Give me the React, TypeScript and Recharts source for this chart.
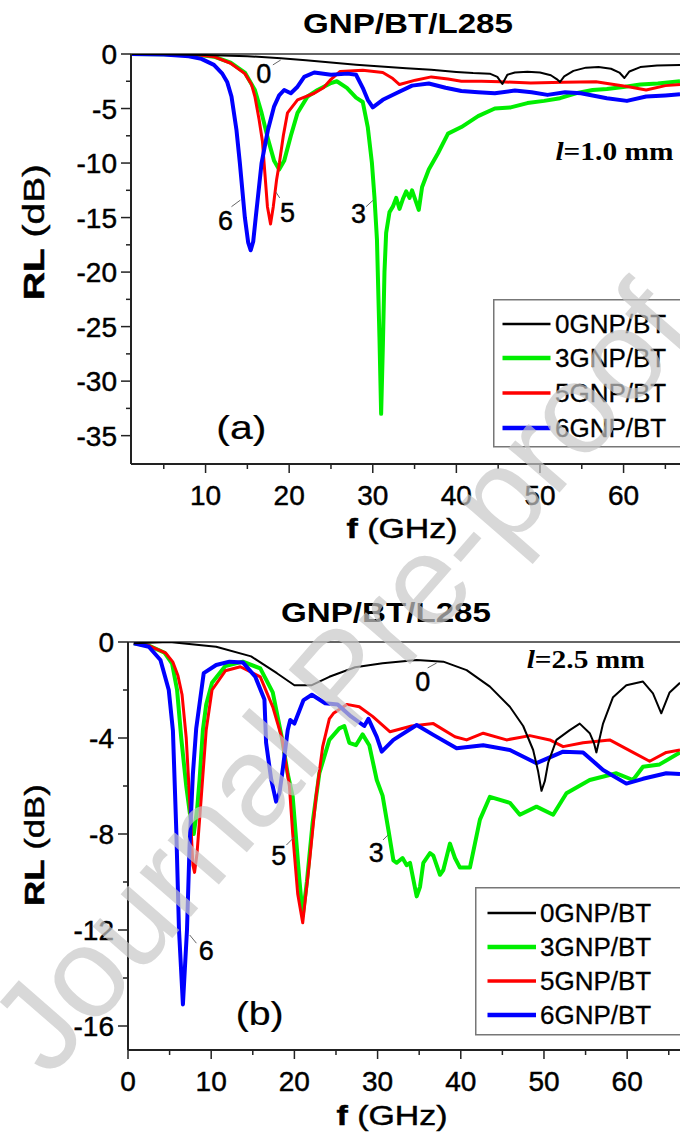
import React from 'react'
import { LineChart, Line, XAxis, YAxis, ReferenceLine, ReferenceDot, Legend } from 'recharts'

const SANS = '"Liberation Sans", Arial, sans-serif'
const SERIF = '"Liberation Serif", "Times New Roman", serif'
const INK = { fill: '#000', stroke: '#000', strokeWidth: 0.45 }

// series styling (legend order)
const names = ['0GNP/BT', '3GNP/BT', '5GNP/BT', '6GNP/BT']
const colors = ['#000000', '#00ee00', '#ff0000', '#0000ff']
const widths = [2, 4, 3, 4]

// (a) l = 1.0 mm  -- [f GHz, RL dB]
const a0 = [[1,0],[5,-0.03],[10,-0.1],[15,-0.2],[19,-0.4],[22,-0.58],[25,-0.78],[28,-0.98],[31,-1.15],[34,-1.3],[37,-1.45],[40,-1.65],[42,-1.75],[44,-1.8],[44.9,-2.1],[45.5,-2.75],[46.1,-1.9],[47,-1.7],[48.5,-1.62],[50,-1.7],[51.3,-1.95],[52,-2.3],[52.4,-2.57],[52.9,-2.05],[54,-1.55],[55.5,-1.25],[57,-1.2],[58.5,-1.35],[59.5,-1.7],[60.1,-2.2],[60.7,-1.6],[62,-1.2],[64,-1.05],[66.75,-1.0]]
const a3 = [[1,0],[5,-0.02],[9,-0.08],[11,-0.25],[13,-0.8],[14.7,-1.7],[15.9,-3.3],[16.7,-5.4],[17.5,-7.9],[18.2,-9.8],[18.8,-10.6],[19.4,-9.8],[20.2,-7.5],[21,-5.4],[22.2,-3.9],[23.4,-3.3],[24.9,-2.7],[25.7,-2.5],[26.9,-3.1],[28,-4.0],[28.8,-4.4],[29.4,-6.7],[29.9,-10],[30.2,-13.1],[30.5,-17],[30.8,-26],[31,-33],[31.2,-27],[31.4,-20],[31.6,-16.4],[32,-14.5],[32.4,-14],[32.8,-13.2],[33.2,-14.2],[33.6,-13.3],[34,-12.6],[34.4,-13.2],[34.7,-12.5],[35.1,-13.4],[35.5,-14.3],[35.9,-12.2],[36.7,-10.6],[37.8,-9.1],[39,-7.3],[40.6,-6.7],[42.6,-5.7],[44.6,-5.0],[46.5,-4.9],[48.5,-4.5],[50.5,-4.3],[52.4,-4.05],[54.3,-3.6],[56.3,-3.3],[58,-3.2],[60.2,-3.0],[62,-2.8],[64.1,-2.7],[66.75,-2.5]]
const a5 = [[1,0],[5,-0.02],[9,-0.08],[11,-0.25],[13,-0.85],[14.7,-1.8],[15.5,-2.8],[15.9,-3.9],[16.4,-6],[16.8,-8],[17.1,-11],[17.4,-14],[17.77,-15.6],[18.1,-14],[18.5,-11.5],[18.83,-10],[19.3,-7.5],[19.8,-5.4],[21,-4.2],[23,-3.6],[24.1,-3.1],[24.9,-2.4],[26.1,-1.6],[28.8,-1.5],[31.2,-1.7],[32.3,-2.2],[33.2,-2.8],[35.1,-2.4],[37,-2.1],[39,-2.3],[40.6,-2.5],[43,-2.5],[45.3,-2.55],[48.9,-2.65],[52.8,-2.6],[56.7,-2.55],[60.6,-3.0],[62.7,-3.3],[65,-2.9],[66.75,-2.8]]
const a6 = [[1,0],[5,-0.05],[8,-0.2],[9.5,-0.45],[11,-1.0],[12,-1.8],[12.6,-2.6],[13.1,-3.9],[13.7,-7],[14.1,-10],[14.7,-15],[15.1,-17.3],[15.4,-18],[15.7,-17.2],[16,-15],[16.7,-10],[17.45,-7],[18.2,-4.8],[18.8,-3.8],[19.4,-3.3],[20.2,-3.6],[21,-3.0],[21.8,-2.1],[23,-1.7],[25,-1.9],[27,-1.8],[28,-1.9],[28.8,-3.1],[29.4,-4.2],[30,-4.9],[31.2,-4.2],[32.8,-3.6],[34.7,-2.9],[36.7,-2.7],[38.7,-3.1],[40.6,-3.4],[42.6,-3.5],[44.6,-3.6],[47,-3.35],[49,-3.5],[50.9,-3.75],[53,-3.5],[54.9,-3.6],[58,-4.05],[60.4,-4.3],[62.7,-3.9],[65,-3.8],[66.75,-3.7]]

// (b) l = 2.5 mm
const b0 = [[0.7,-0.05],[5,0],[10.6,-0.2],[14.8,-0.6],[17.9,-1.3],[20,-1.8],[22.1,-1.8],[24.2,-1.45],[27.3,-1.05],[30.6,-0.89],[34.7,-0.75],[37.9,-0.82],[40.7,-1.17],[43.5,-1.86],[45.9,-2.7],[47.5,-3.5],[48.7,-4.5],[49.3,-5.4],[49.7,-6.2],[50.1,-5.8],[50.5,-5.04],[51.5,-4.08],[53.1,-3.67],[54.3,-3.4],[55.5,-3.8],[56,-4.2],[56.3,-4.6],[56.7,-4.0],[57.1,-3.4],[58.3,-2.3],[59.9,-1.8],[61.9,-1.65],[63.1,-2.14],[64.1,-2.97],[65.1,-2.1],[66.35,-1.7]]
const b3 = [[0.7,-0.05],[2.5,-0.15],[4.4,-0.45],[5.3,-0.9],[5.9,-2.0],[6.4,-4.0],[7.0,-6.0],[7.5,-7.3],[7.9,-8.0],[8.3,-7.0],[8.6,-5.75],[9.0,-3.67],[9.4,-2.6],[10.1,-1.7],[11.7,-1.0],[13.8,-0.82],[15.9,-1.1],[17.4,-2.1],[18.5,-4.0],[19.2,-5.5],[19.8,-6.45],[20.6,-9.9],[21.0,-11.4],[21.5,-10],[22.2,-7.5],[23,-5.47],[24.2,-4.08],[25.4,-3.6],[26,-3.5],[26.6,-4.2],[27.4,-4.3],[28.2,-3.85],[29,-4.3],[29.9,-5.75],[30.6,-6.4],[31.3,-7.83],[31.9,-9.1],[32.3,-9.2],[33,-9.0],[33.5,-9.3],[33.9,-9.2],[34.7,-10.6],[35.1,-10.2],[35.5,-9.2],[36.3,-8.8],[36.7,-8.9],[37.5,-9.7],[37.9,-9.5],[38.7,-8.4],[39.3,-9.0],[39.9,-9.4],[41.1,-9.4],[42.3,-7.4],[43.5,-6.45],[45.9,-6.7],[47.1,-7.2],[49.1,-6.86],[51.1,-7.2],[52.7,-6.3],[55.5,-5.75],[58.7,-5.47],[60.7,-5.75],[61.9,-5.2],[63.9,-5.1],[66.35,-4.6]]
const b5 = [[0.7,-0.05],[2.5,-0.15],[4.5,-0.45],[5.4,-0.84],[6.0,-1.4],[6.5,-2.2],[7.0,-4.0],[7.4,-6.5],[7.8,-9.3],[8.0,-9.6],[8.3,-8.8],[8.8,-6.5],[9.4,-3.67],[10.1,-2.0],[11.7,-1.2],[13.5,-1.03],[15.9,-1.45],[17.4,-2.7],[18.5,-4.0],[19.4,-6.0],[19.8,-8.0],[20.4,-10.5],[21.0,-11.7],[21.8,-9.2],[22.6,-6.45],[23.4,-4.36],[24.2,-3.2],[24.7,-2.97],[26.3,-2.6],[27.8,-2.7],[29.4,-3.1],[31.5,-3.74],[34.1,-3.5],[36.7,-3.4],[39.3,-3.95],[40.7,-4.08],[42.7,-3.8],[45.5,-4.08],[48.3,-3.9],[50.7,-4.08],[52.3,-4.36],[54.7,-4.2],[57.9,-4.08],[60.7,-4.6],[62.7,-4.97],[64.7,-4.6],[66.35,-4.5]]
const b6 = [[0.7,-0.05],[2.5,-0.2],[3.9,-0.75],[4.9,-2],[5.4,-3.7],[5.8,-7.8],[6.13,-12],[6.6,-15.1],[7.09,-12],[7.4,-8.5],[7.8,-5.5],[8.2,-3.6],[9.1,-1.3],[10.6,-0.96],[12.2,-0.82],[13.8,-0.85],[15.3,-1.45],[16.4,-2.4],[16.6,-4.2],[17.2,-5.7],[17.8,-6.65],[18.2,-6.3],[18.6,-5.3],[19.2,-3.67],[19.5,-3.25],[20,-3.4],[21.1,-2.42],[22.1,-2.2],[23.7,-2.55],[25.2,-2.6],[26.8,-3.1],[28.4,-3.5],[28.9,-3.2],[29.9,-3.95],[30.5,-4.57],[31.9,-4.08],[34.7,-3.46],[36.7,-3.87],[39.5,-4.43],[42.7,-4.3],[45.9,-4.5],[49.1,-5.05],[52.3,-4.57],[54.7,-4.6],[57.1,-5.33],[59.9,-5.9],[61.9,-5.7],[64.7,-5.47],[66.35,-5.5]]

// ticks
const xTicksA = [5, 10, 15, 20, 25, 30, 35, 40, 45, 50, 55, 60, 65]
const xTicksB = [0, 5, 10, 15, 20, 25, 30, 35, 40, 45, 50, 55, 60, 65]
const yTicksA = [0, -2.5, -5, -7.5, -10, -12.5, -15, -17.5, -20, -22.5, -25, -27.5, -30, -32.5, -35]
const yTicksB = [0, -2, -4, -6, -8, -10, -12, -14, -16]

const toRows = (pts: number[][]) => pts.map(([f, rl]) => ({ f, rl }))

const XTick = (p: any) => {
  const v = p.payload.value
  const major = v % 10 === 0
  return (
    <g>
      <line x1={p.x} x2={p.x} y1={p.y} y2={p.y + (major ? 9 : 5)} stroke="#222" strokeWidth={1.5} />
      {major && <text x={p.x} y={p.y + 41} textAnchor="middle" fontSize={28} fontFamily={SANS} style={INK}>{v}</text>}
    </g>
  )
}

const yTick = (step: number) => (p: any) => {
  const v = p.payload.value
  const major = Math.abs(v % step) < 1e-6
  return (
    <g>
      <line x1={p.x - (major ? 10 : 5)} x2={p.x} y1={p.y} y2={p.y} stroke="#222" strokeWidth={1.5} />
      {major && <text x={p.x - 14} y={p.y + 10} textAnchor="end" fontSize={28} fontFamily={SANS} style={INK}>{v}</text>}
    </g>
  )
}

const tag = (txt: string) => (p: any) => (
  <text x={p.cx} y={p.cy} textAnchor="middle" fontSize={27} fontFamily={SANS} style={INK}>{txt}</text>
)

const thick = (txt: string, size: number) => (p: any) => (
  <text x={p.cx} y={p.cy} fontSize={size} fontWeight="bold" fontFamily={SERIF} fill="#000" textLength={118} lengthAdjust="spacingAndGlyphs">
    <tspan fontStyle="italic">l</tspan>{txt}
  </text>
)

const legendBox = (rowY: number[], lineX: number[], textX: number) => () => (
  <svg width={230} height={150} style={{ display: 'block' }}>
    <rect x={0.75} y={0.75} width={240} height={147} fill="#fff" stroke="#777" strokeWidth={1.5} />
    {names.map((n, i) => (
      <g key={n}>
        <line x1={lineX[0]} x2={lineX[1]} y1={rowY[i]} y2={rowY[i]} stroke={colors[i]} strokeWidth={widths[i] + 0.5} />
        <text x={textX} y={rowY[i] + 9} fontSize={26} fontFamily={SANS} style={{ ...INK, strokeWidth: 0.3 }}>{n}</text>
      </g>
    ))}
  </svg>
)

const drawOrder = [1, 2, 3, 0]

function Panel({ top, height, margin, yWidth, xDomain, yDomain, xTicks, yTicks, yStep, series, title, legendPos, legend, children }: any) {
  return (
    <div style={{ position: 'absolute', left: 0, top }}>
      <LineChart width={680} height={height} margin={margin}>
        <XAxis type="number" dataKey="f" domain={xDomain} ticks={xTicks} interval={0} allowDataOverflow
          height={30} tickSize={0} tickMargin={0} tickLine={false} tick={XTick} axisLine={{ stroke: '#222', strokeWidth: 2 }} />
        <YAxis type="number" domain={yDomain} ticks={yTicks} interval={0} allowDataOverflow
          width={yWidth} tickSize={0} tickMargin={0} tickLine={false} tick={yTick(yStep)} axisLine={{ stroke: '#222', strokeWidth: 2 }} />
        <ReferenceLine y={0} stroke="#333" strokeWidth={1.5} />
        {drawOrder.map(i => (
          <Line key={names[i]} data={toRows(series[i])} dataKey="rl" name={names[i]} type="linear"
            stroke={colors[i]} strokeWidth={widths[i]} dot={false} isAnimationActive={false} strokeLinejoin="round" />
        ))}
        {children}
        <Legend layout="vertical" align="center" verticalAlign="middle" content={legend}
          wrapperStyle={{ position: 'absolute', left: legendPos[0], top: legendPos[1], width: 230, height: 150 }} />
        <text x={title[0]} y={title[1]} textAnchor="middle" fontSize={28} fontWeight="bold" fontFamily={SANS} fill="#000" textLength={210} lengthAdjust="spacingAndGlyphs">GNP/BT/L285</text>
      </LineChart>
    </div>
  )
}

export default function App() {
  return (
    <div style={{ position: 'absolute', left: 0, top: 0, width: 680, height: 1132, overflow: 'hidden', background: '#fff' }}>
      <Panel top={0} height={560} margin={{ top: 54, right: 0, bottom: 66, left: 0 }} yWidth={131}
        xDomain={[1.08, 66.75]} yDomain={[-37.6, 0]} xTicks={xTicksA} yTicks={yTicksA} yStep={5}
        series={[a0, a3, a5, a6]} title={[408, 33]} legendPos={[493, 299]}
        legend={legendBox([25, 59, 94, 129], [9.5, 57.5], 62)}>
        <ReferenceLine segment={[{ x: 18.05, y: -1.0 }, { x: 18.99, y: -0.55 }]} stroke="#666" strokeWidth={1} />
        <ReferenceLine segment={[{ x: 13.1, y: -14.0 }, { x: 14.16, y: -13.4 }]} stroke="#666" strokeWidth={1} />
        <ReferenceLine segment={[{ x: 18.4, y: -12.65 }, { x: 18.87, y: -13.2 }]} stroke="#666" strokeWidth={1} />
        <ReferenceLine segment={[{ x: 29.2, y: -14.0 }, { x: 30.06, y: -13.4 }]} stroke="#666" strokeWidth={1} />
        <ReferenceDot x={16.97} y={-2.66} r={0} shape={tag('0')} />
        <ReferenceDot x={12.39} y={-16.13} r={0} shape={tag('6')} />
        <ReferenceDot x={19.81} y={-15.4} r={0} shape={tag('5')} />
        <ReferenceDot x={28.29} y={-15.49} r={0} shape={tag('3')} />
        <ReferenceDot x={14.28} y={-35.3} r={0} shape={(p: any) => <text x={p.cx} y={p.cy} textAnchor="middle" fontSize={34} fontFamily={SANS} style={{ ...INK, strokeWidth: 0.2 }} textLength={50} lengthAdjust="spacingAndGlyphs">(a)</text>} />
        <ReferenceDot x={51.85} y={-9.72} r={0} shape={thick('=1.0 mm', 25)} />
        <text x={44} y={232} transform="rotate(-90 44 232)" textAnchor="middle" fontSize={29} fontFamily={SANS} style={INK} textLength={136} lengthAdjust="spacingAndGlyphs"><tspan fontWeight="bold">RL</tspan> (dB)</text>
        <text x={402} y={538} textAnchor="middle" fontSize={28} fontFamily={SANS} style={INK} textLength={111} lengthAdjust="spacingAndGlyphs"><tspan fontWeight="bold">f</tspan> (GHz)</text>
      </Panel>
      <Panel top={590} height={542} margin={{ top: 52, right: 0, bottom: 52, left: 0 }} yWidth={128}
        xDomain={[0, 66.35]} yDomain={[-17, 0]} xTicks={xTicksB} yTicks={yTicksB} yStep={4}
        series={[b0, b3, b5, b6]} title={[386, 32]} legendPos={[475, 297]}
        legend={legendBox([26, 60, 94, 128], [12.5, 61], 65)}>
        <ReferenceLine segment={[{ x: 36.02, y: -1.08 }, { x: 37.1, y: -0.875 }]} stroke="#666" strokeWidth={1} />
        <ReferenceLine segment={[{ x: 19.04, y: -8.46 }, { x: 20.04, y: -8.11 }]} stroke="#666" strokeWidth={1} />
        <ReferenceLine segment={[{ x: 30.65, y: -8.25 }, { x: 31.25, y: -8.04 }]} stroke="#666" strokeWidth={1} />
        <ReferenceLine segment={[{ x: 7.42, y: -12.21 }, { x: 8.22, y: -12.55 }]} stroke="#666" strokeWidth={1} />
        <ReferenceDot x={35.42} y={-2.04} r={0} shape={tag('0')} />
        <ReferenceDot x={18.11} y={-9.29} r={0} shape={tag('5')} />
        <ReferenceDot x={29.83} y={-9.17} r={0} shape={tag('3')} />
        <ReferenceDot x={9.4} y={-13.25} r={0} shape={tag('6')} />
        <ReferenceDot x={15.83} y={-15.96} r={0} shape={(p: any) => <text x={p.cx} y={p.cy} textAnchor="middle" fontSize={34} fontFamily={SANS} style={{ ...INK, strokeWidth: 0.2 }} textLength={48} lengthAdjust="spacingAndGlyphs">(b)</text>} />
        <ReferenceDot x={47.92} y={-1.08} r={0} shape={thick('=2.5 mm', 26)} />
        <text x={44} y={255} transform="rotate(-90 44 255)" textAnchor="middle" fontSize={28} fontFamily={SANS} style={INK} textLength={122} lengthAdjust="spacingAndGlyphs"><tspan fontWeight="bold">RL</tspan> (dB)</text>
        <text x={392} y={535} textAnchor="middle" fontSize={28} fontFamily={SANS} style={INK} textLength={111} lengthAdjust="spacingAndGlyphs"><tspan fontWeight="bold">f</tspan> (GHz)</text>
      </Panel>
      <svg width={680} height={1132} style={{ position: 'absolute', left: 0, top: 0, pointerEvents: 'none' }}>
        <text x={374} y={706} transform="rotate(-49 374 706)" textAnchor="middle" fontSize={128} fontFamily={SANS} fill="#c8c8c8" opacity={0.7}>Journal Pre-proof</text>
      </svg>
    </div>
  )
}
